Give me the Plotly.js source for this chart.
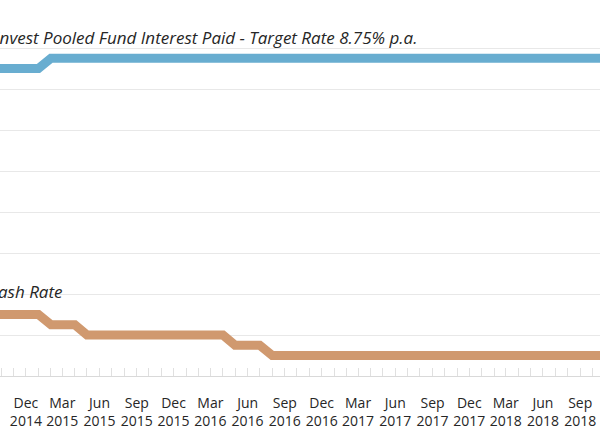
<!DOCTYPE html>
<html>
<head>
<meta charset="utf-8">
<script src="https://cdn.plot.ly/plotly-3.0.1.min.js"></script>
<style>
html,body{margin:0;padding:0;background:#fff;}
#chart{width:600px;height:429px;}
</style>
</head>
<body>
<div id="chart"></div>
<script>
var months = ['2014-07-01','2014-08-01','2014-09-01','2014-10-01','2014-11-01','2014-12-01',
  '2015-01-01','2015-02-01','2015-03-01','2015-04-01','2015-05-01','2015-06-01','2015-07-01','2015-08-01','2015-09-01','2015-10-01','2015-11-01','2015-12-01',
  '2016-01-01','2016-02-01','2016-03-01','2016-04-01','2016-05-01','2016-06-01','2016-07-01','2016-08-01','2016-09-01','2016-10-01','2016-11-01','2016-12-01',
  '2017-01-01','2017-02-01','2017-03-01','2017-04-01','2017-05-01','2017-06-01','2017-07-01','2017-08-01','2017-09-01','2017-10-01','2017-11-01','2017-12-01',
  '2018-01-01','2018-02-01','2018-03-01','2018-04-01','2018-05-01','2018-06-01','2018-07-01','2018-08-01','2018-09-01','2018-10-01','2018-11-01','2018-12-01'];
var fundRate = [8.5,8.5,8.5,8.5,8.5,8.5,
  8.5,8.75,8.75,8.75,8.75,8.75,8.75,8.75,8.75,8.75,8.75,8.75,
  8.75,8.75,8.75,8.75,8.75,8.75,8.75,8.75,8.75,8.75,8.75,8.75,
  8.75,8.75,8.75,8.75,8.75,8.75,8.75,8.75,8.75,8.75,8.75,8.75,
  8.75,8.75,8.75,8.75,8.75,8.75,8.75,8.75,8.75,8.75,8.75,8.75];
var cashRate = [2.5,2.5,2.5,2.5,2.5,2.5,
  2.5,2.25,2.25,2.25,2.0,2.0,2.0,2.0,2.0,2.0,2.0,2.0,
  2.0,2.0,2.0,2.0,1.75,1.75,1.75,1.5,1.5,1.5,1.5,1.5,
  1.5,1.5,1.5,1.5,1.5,1.5,1.5,1.5,1.5,1.5,1.5,1.5,
  1.5,1.5,1.5,1.5,1.5,1.5,1.5,1.5,1.5,1.5,1.5,1.5];
var fundLabel = 'Invest Pooled Fund Interest Paid - Target Rate 8.75% p.a.';
var cashLabel = 'Cash Rate';

var traces = [
  {x: months, y: fundRate, type:'scatter', mode:'lines', line:{color:'#68add0', width:9}, hoverinfo:'skip'},
  {x: months, y: cashRate, type:'scatter', mode:'lines', line:{color:'#d0996f', width:9}, hoverinfo:'skip'}
];
var layout = {
  width:600, height:429,
  margin:{l:0, r:0, t:7, b:53},
  paper_bgcolor:'#fff', plot_bgcolor:'#fff',
  showlegend:false,
  font:{family:'"Open Sans", sans-serif', color:'#333'},
  xaxis:{
    type:'date',
    range:['2014-09-28','2018-10-20'],
    tick0:'2014-12-01', dtick:'M3',
    tickformat:'%b<br>%Y',
    ticks:'inside', ticklen:8, tickcolor:'#e0e0e0', tickwidth:1,
    minor:{dtick:'M1', ticks:'inside', ticklen:8, tickcolor:'#e0e0e0', tickwidth:1, showgrid:false},
    showline:true, linecolor:'#d9d9d9', linewidth:1,
    showgrid:false, zeroline:false,
    tickfont:{size:14, color:'#262626', family:'"Open Sans", sans-serif'},
    ticklabelstandoff:14
  },
  yaxis:{
    range:[1,10], dtick:1, tick0:1,
    showgrid:true, gridcolor:'#e8e8e8', gridwidth:1,
    showticklabels:false, zeroline:false, showline:false, ticks:''
  },
  annotations:[
    {xref:'paper', yref:'y', x:419/600, y:9.25, xanchor:'right', yanchor:'middle', text:fundLabel, showarrow:false,
     font:{family:'"Open Sans", sans-serif', size:17, color:'#262626', style:'italic'}},
    {xref:'paper', yref:'y', x:65/600, y:3.07, xanchor:'right', yanchor:'middle', text:cashLabel, showarrow:false,
     font:{family:'"Open Sans", sans-serif', size:17, color:'#262626', style:'italic'}}
  ]
};
Plotly.newPlot('chart', traces, layout, {staticPlot:true, displayModeBar:false});
</script>
</body>
</html>
